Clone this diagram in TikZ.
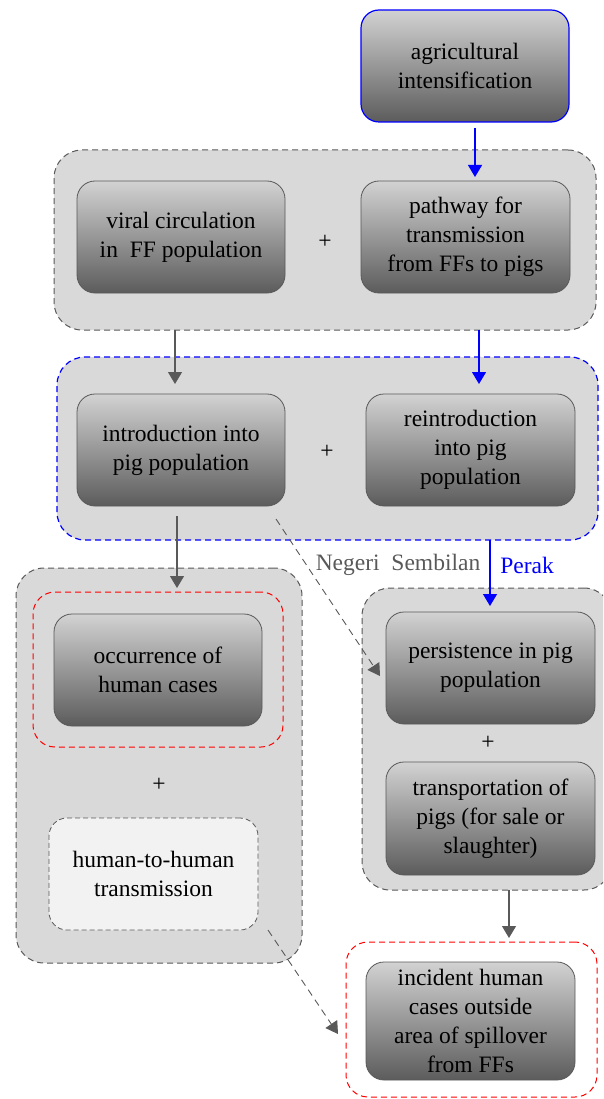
\documentclass[tikz,border=0pt]{standalone}
\usepackage{fontspec}
\setmainfont{Liberation Serif}
\usetikzlibrary{arrows.meta,calc}
\definecolor{grpfill}{HTML}{D9D9D9}
\definecolor{boxtop}{HTML}{D2D2D2}
\definecolor{boxbot}{HTML}{5C5C5C}
\definecolor{edge}{HTML}{595959}
\definecolor{lightbox}{HTML}{F2F2F2}
\definecolor{myblue}{HTML}{0000FF}
\definecolor{myred}{HTML}{FF0000}
\begin{document}
\begin{tikzpicture}[x=1pt,y=-1pt,
  txt/.style={font=\fontsize{23.5}{29}\selectfont, align=center, text=black},
  gbox/.style={txt, rectangle, rounded corners=18pt, minimum width=208, minimum height=112,
    top color=boxtop, bottom color=boxbot, draw=edge, line width=0.8pt, inner sep=2pt},
  grp/.style={rectangle, rounded corners=28pt, fill=grpfill, draw=edge, line width=1pt,
    dash pattern=on 6pt off 4pt},
  redgrp/.style={rectangle, rounded corners=22pt, draw=myred, line width=1pt,
    dash pattern=on 6pt off 4pt},
  arr/.style={-{Triangle[width=14pt,length=12pt]}, line width=1.1pt},
  plus/.style={font=\fontsize{23.5}{28}\selectfont}
]
\useasboundingbox (0,0) rectangle (603,1099);
\clip (0,0) rectangle (603,1099);

% groups
\node[grp, minimum width=542, minimum height=180] (g1) at (325,240) {};
\node[grp, draw=myblue, line width=1.2pt, minimum width=541, minimum height=183] (g2) at (327.5,448.5) {};
\node[grp, minimum width=286, minimum height=395] (g3) at (159,765.5) {};
\node[grp, minimum width=250, minimum height=302] (g4) at (487,739) {};
\node[redgrp, minimum width=250, minimum height=155] (r1) at (158,669.5) {};
\node[redgrp, minimum width=251, minimum height=155] (r2) at (471.5,1019.5) {};

% boxes
\node[gbox, draw=myblue, line width=1.2pt, minimum width=208] (agri) at (465,66) {agricultural\\intensification};
\node[gbox] (viral) at (181,237) {viral circulation\\in\ \ FF population};
\node[gbox, minimum width=209] (path) at (465.5,237) {pathway for\\transmission\\from FFs to pigs};
\node[gbox] (intro) at (181,450) {introduction into\\pig population};
\node[gbox, minimum width=209] (reintro) at (470.5,450) {reintroduction\\into pig\\population};
\node[gbox] (occ) at (158,670) {occurrence of\\human cases};
\node[gbox, fill=lightbox, top color=lightbox, bottom color=lightbox, dash pattern=on 5pt off 3pt, minimum width=209] (h2h) at (153.5,874) {human-to-human\\transmission};
\node[gbox, minimum width=209] (pers) at (490.5,668) {persistence in pig\\population};
\node[gbox, minimum width=209, minimum height=113] (trans) at (490.5,818.5) {transportation of\\pigs (for sale or\\slaughter)};
\node[gbox, minimum width=209, minimum height=118] (inc) at (470.5,1021) {incident human\\cases outside\\area of spillover\\from FFs};

% plus signs
\node[plus] (p1) at (325,242) {+};
\node[plus] (p2) at (327,452) {+};
\node[plus] (p3) at (159,785) {+};
\node[plus] (p4) at (488,743) {+};

% labels
\node[txt, text=edge] (ns) at (398,565) {Negeri\ \ Sembilan};
\node[txt, text=myblue] (pk) at (527,565) {Perak};

% connector coordinates
\coordinate (c1s) at (475,128);
\coordinate (c1e) at (475,177);
\coordinate (c2s) at (175,330);
\coordinate (c2e) at (175,384);
\coordinate (c3s) at (479,330);
\coordinate (c3e) at (479,384);
\coordinate (c4s) at (177,516);
\coordinate (c4e) at (177,588);
\coordinate (c5s) at (490,540);
\coordinate (c5e) at (490,606);
\coordinate (c6s) at (276,519);
\coordinate (c6e) at (380,676);
\coordinate (c7s) at (509,890);
\coordinate (c7e) at (509,938);
\coordinate (c8s) at (268,930);
\coordinate (c8e) at (338,1034);

\draw[arr, myblue] (c1s) -- (c1e);
\draw[arr, edge] (c2s) -- (c2e);
\draw[arr, myblue] (c3s) -- (c3e);
\draw[arr, edge] (c4s) -- (c4e);
\draw[arr, myblue] (c5s) -- (c5e);
\draw[arr, edge, line width=0.9pt, dash pattern=on 7pt off 5pt] (c6s) -- (c6e);
\draw[arr, edge] (c7s) -- (c7e);
\draw[arr, edge, line width=0.9pt, dash pattern=on 7pt off 5pt] (c8s) -- (c8e);
\end{tikzpicture}
\end{document}
